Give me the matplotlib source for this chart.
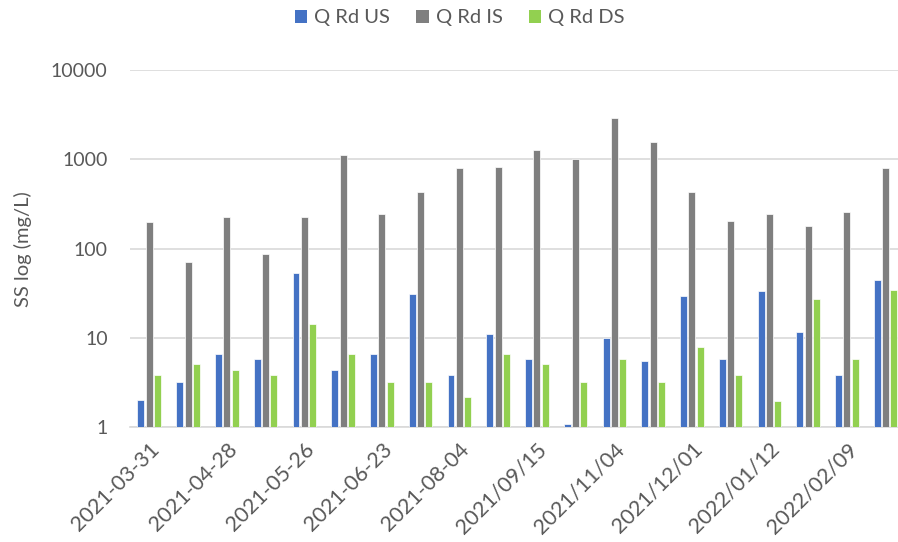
import numpy as np
import matplotlib
matplotlib.use("Agg")
import matplotlib.pyplot as plt
import matplotlib.transforms as mtransforms
from matplotlib.patches import Patch

plt.rcParams['font.family'] = ['Lato', 'DejaVu Sans']

# every other sampling date is labelled on the axis
tick_labels = ['2021-03-31', '2021-04-28', '2021-05-26', '2021-06-23', '2021-08-04',
               '2021/09/15', '2021/11/04', '2021/12/01', '2022/01/12', '2022/02/09']

q_rd_us = [2.0, 3.2, 6.7, 5.8, 53, 4.4, 6.7, 31, 3.9, 11,
           5.8, 1.08, 9.9, 5.5, 29.5, 5.8, 33.5, 11.7, 3.9, 45]
q_rd_is = [200, 70, 228, 88, 228, 1110, 242, 427, 800, 830,
           1270, 1010, 2900, 1550, 427, 206, 242, 181, 259, 800]
q_rd_ds = [3.9, 5.1, 4.35, 3.9, 14.2, 6.7, 3.2, 3.2, 2.17, 6.7,
           5.1, 3.2, 5.8, 3.2, 7.9, 3.9, 1.95, 27.5, 5.8, 34.8]

series = [('Q Rd US', q_rd_us, '#4472C4'),
          ('Q Rd IS', q_rd_is, '#7F7F7F'),
          ('Q Rd DS', q_rd_ds, '#92D050')]

text_col = '#595959'
grid_col = '#D9D9D9'

fig = plt.figure(figsize=(8.98, 5.42), dpi=100)
ax = fig.add_axes([0.1447, 0.2116, 0.8631, 0.6593])

x = np.arange(len(q_rd_us))
w = 0.18
step = 0.215
for i, (name, vals, col) in enumerate(series):
    ax.bar(x + (i - 1) * step, vals, width=w, color=col, edgecolor='white',
           linewidth=0.5, zorder=3, label=name)

ax.set_yscale('log')
ax.set_ylim(1, 10000)
ax.set_xlim(-0.5, len(x) - 0.5)
ax.set_yticks([1, 10, 100, 1000, 10000])
ax.set_yticklabels(['1', '10', '100', '1000', '10000'])
ax.yaxis.set_minor_locator(matplotlib.ticker.NullLocator())
ax.grid(axis='y', color=grid_col, linewidth=1.2, zorder=0)

for s in ['top', 'right', 'left']:
    ax.spines[s].set_visible(False)
ax.spines['bottom'].set_color(grid_col)
ax.spines['bottom'].set_linewidth(1.2)

ax.set_xticks(x[::2])
ax.set_xticklabels(tick_labels, rotation=45, ha='right', va='center',
                   rotation_mode='anchor')
ax.tick_params(axis='x', length=0, pad=13.5, labelsize=15.5, labelcolor=text_col)
ax.tick_params(axis='y', length=0, pad=16, labelsize=14, labelcolor=text_col)
shift = mtransforms.ScaledTranslation(0.07, 0, fig.dpi_scale_trans)
for lbl in ax.get_xticklabels():
    lbl.set_transform(lbl.get_transform() + shift)

ax.set_ylabel('SS log (mg/L)', fontsize=14.5, color=text_col, labelpad=14)

handles = [Patch(facecolor=c, label=n) for n, _, c in series]
fig.legend(handles=handles, loc='center', bbox_to_anchor=(0.512, 0.967), ncol=3,
           frameon=False, fontsize=14.5, labelcolor=text_col, handlelength=0.6,
           handleheight=0.6, handletextpad=0.35, columnspacing=1.3)

fig.savefig('out.png', dpi=100)
